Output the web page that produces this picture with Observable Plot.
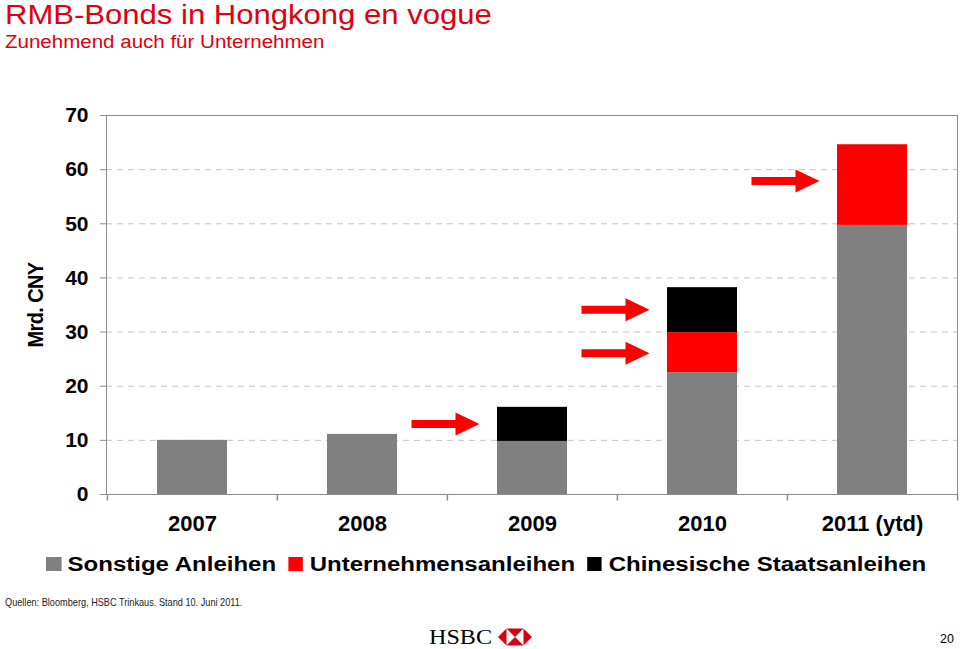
<!DOCTYPE html>
<html>
<head>
<meta charset="utf-8">
<script src="https://cdn.jsdelivr.net/npm/d3@7"></script>
<script src="https://cdn.jsdelivr.net/npm/@observablehq/plot@0.6"></script>
<style>
  html, body { margin: 0; padding: 0; background: #fff; }
  #page { position: relative; width: 960px; height: 649px; overflow: hidden; font-family: "Liberation Sans", Arial, sans-serif; }
  .abs { position: absolute; white-space: nowrap; }
  #title { left: 5px; top: 0px; font-size: 27px; line-height: normal; color: #e10010; transform: scaleX(1.15); transform-origin: 0 0; }
  #subtitle { left: 5px; top: 33px; font-size: 18px; line-height: 18px; color: #e10010; transform: scaleX(1.14); transform-origin: 0 0; }
  #ylabel { left: 35px; top: 305px; font-size: 20px; line-height: 20px; font-weight: bold; letter-spacing: -0.6px; transform: translate(-50%, -50%) rotate(-90deg) scale(1, 1.12); }
  #chart { left: 0; top: 95px; }
  #legend { left: 46px; top: 554px; display: flex; align-items: center; font-size: 20px; line-height: 20px; font-weight: bold; transform: scaleX(1.2); transform-origin: 0 0; }
  #legend .sw { width: 12.5px; height: 14px; margin-right: 5.5px; }
  #legend .item { display: flex; align-items: center; margin-right: 10px; }
  #footer { left: 5px; top: 598px; font-size: 10.2px; line-height: 10px; color: #222; transform: scaleX(0.9); transform-origin: 0 0; }
  #pagenum { left: 940px; top: 633px; font-size: 12.5px; line-height: 13px; color: #000; }
  #logo { left: 426px; top: 620px; }
</style>
</head>
<body>
<div id="page">
  <div id="title" class="abs"></div>
  <div id="subtitle" class="abs"></div>
  <div id="ylabel" class="abs"></div>
  <div id="chart" class="abs"></div>
  <div id="legend" class="abs"></div>
  <div id="footer" class="abs"></div>
  <svg id="logo" class="abs" width="110" height="29">
    <text x="3" y="24" font-family="Liberation Serif, 'Times New Roman', serif" font-size="22" textLength="63" lengthAdjust="spacingAndGlyphs" fill="#000">HSBC</text>
    <g transform="translate(72,8.5)">
      <polygon points="0,8.5 8.5,0 8.5,17" fill="#db0011"/>
      <polygon points="34,8.5 25.5,0 25.5,17" fill="#db0011"/>
      <polygon points="8.5,0 25.5,0 17,8.5" fill="#db0011"/>
      <polygon points="8.5,17 25.5,17 17,8.5" fill="#db0011"/>
    </g>
  </svg>
  <div id="pagenum" class="abs"></div>
</div>
<script>
// ---- data ----
const titleText = "RMB-Bonds in Hongkong en vogue";
const subtitleText = "Zunehmend auch für Unternehmen";
const yLabelText = "Mrd. CNY";
const footerText = "Quellen: Bloomberg, HSBC Trinkaus. Stand 10. Juni 2011.";
const pageNumber = "20";

const years = ["2007", "2008", "2009", "2010", "2011 (ytd)"];
const seriesNames = ["Sonstige Anleihen", "Unternehmensanleihen", "Chinesische Staatsanleihen"];
const sonstigeAnleihen = [10.0, 11.1, 9.8, 22.5, 49.7];
const unternehmensanleihen = [0, 0, 0, 7.4, 14.9];
const staatsanleihen = [0, 0, 6.3, 8.3, 0];
const yTicks = [0, 10, 20, 30, 40, 50, 60, 70];

const arrowYears = ["2009", "2010", "2010", "2011 (ytd)"];
const arrowValues = [13.0, 34.1, 26.1, 57.9];

const seriesColors = ["#808080", "#ff0000", "#000000"];

// ---- build tables ----
const seriesValues = [sonstigeAnleihen, unternehmensanleihen, staatsanleihen];
const rows = seriesNames.flatMap((s, j) => years.map((y, i) => ({year: y, series: s, value: seriesValues[j][i]})));
const arrows = arrowYears.map((y, i) => ({year: y, value: arrowValues[i]}));

// ---- custom symbols ----
const arrowSymbol = {
  draw(ctx) {
    ctx.moveTo(-34, -4);
    ctx.lineTo(10, -4);
    ctx.lineTo(10, -11.5);
    ctx.lineTo(34, 0);
    ctx.lineTo(10, 11.5);
    ctx.lineTo(10, 4);
    ctx.lineTo(-34, 4);
    ctx.closePath();
  }
};
const tickSymbol = {
  draw(ctx) {
    ctx.moveTo(0, 0);
    ctx.lineTo(0, 6);
  }
};

const axisGray = "#8c8c8c";
const halfStep = (960 - 106 - 3) / years.length / 2;

const chart = Plot.plot({
  width: 960,
  height: 450,
  marginTop: 20,
  marginBottom: 51,
  marginLeft: 106,
  marginRight: 3,
  style: {fontFamily: "'Liberation Sans', Arial, sans-serif", fontWeight: "bold", fontSize: "21px", color: "#000", background: "transparent", overflow: "visible"},
  x: {domain: years, paddingInner: 0.59, paddingOuter: 0.295, label: null},
  y: {domain: [0, 70], label: null},
  color: {domain: seriesNames, range: seriesColors},
  marks: [
    Plot.gridY({ticks: yTicks.slice(1, -1), stroke: "#c4c4c4", strokeOpacity: 1, strokeDasharray: "6,5"}),
    Plot.barY(rows, {x: "year", y: "value", fill: "series"}),
    Plot.frame({stroke: axisGray}),
    Plot.axisY({ticks: yTicks, tickSize: 6, tickPadding: 12, stroke: axisGray, fill: "#000", fontSize: 21, fontWeight: "bold", label: null}),
    Plot.axisX({tickSize: 0, tickPadding: 21, fill: "#000", fontSize: 22, fontWeight: "bold", label: null}),
    Plot.dot(years, {x: d => d, y: 0, symbol: tickSymbol, stroke: axisGray, fill: "none", dx: -halfStep}),
    Plot.dot(years.slice(-1), {x: d => d, y: 0, symbol: tickSymbol, stroke: axisGray, fill: "none", dx: halfStep}),
    Plot.dot(arrows, {x: "year", y: "value", symbol: arrowSymbol, fill: "#ff0000", stroke: "none", dx: -87})
  ]
});
document.getElementById("chart").appendChild(chart);

// ---- texts ----
document.getElementById("title").textContent = titleText;
document.getElementById("subtitle").textContent = subtitleText;
document.getElementById("ylabel").textContent = yLabelText;
document.getElementById("footer").textContent = footerText;
document.getElementById("pagenum").textContent = pageNumber;

// ---- legend ----
const legend = d3.select("#legend");
seriesNames.forEach((s, i) => {
  const item = legend.append("div").attr("class", "item");
  item.append("div").attr("class", "sw").style("background", seriesColors[i]);
  item.append("span").text(s);
});
</script>
</body>
</html>
